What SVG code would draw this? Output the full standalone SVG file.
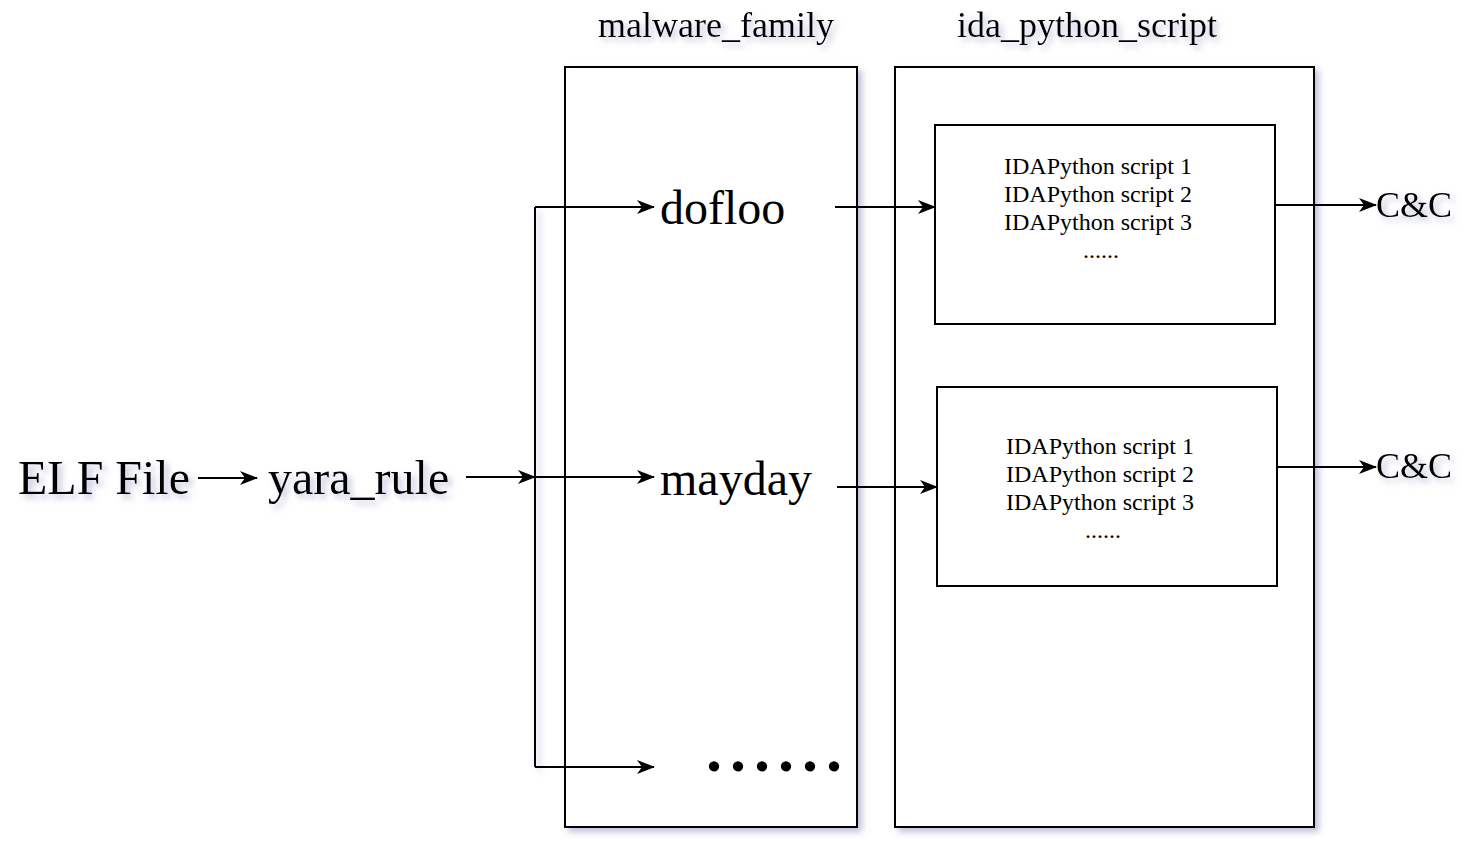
<svg xmlns="http://www.w3.org/2000/svg" width="1464" height="842" viewBox="0 0 1464 842">
<style>
.t{font-family:"Liberation Serif","Times New Roman",serif;fill:#000}
.big{font-size:48px}
.hdr{font-size:36px}
.sm{font-size:24px}
.box{fill:#fff;stroke:#000;stroke-width:2}
.ln{fill:none;stroke:#000;stroke-width:2}
</style>
<defs>
<filter id="sh" x="-20%" y="-20%" width="140%" height="140%">
<feGaussianBlur in="SourceAlpha" stdDeviation="3"/>
<feOffset dx="4" dy="4" result="b"/>
<feFlood flood-color="#8a8fb8" flood-opacity="0.55"/>
<feComposite in2="b" operator="in"/>
<feMerge><feMergeNode/><feMergeNode in="SourceGraphic"/></feMerge>
</filter>
<filter id="shl" filterUnits="userSpaceOnUse" x="520" y="190" width="40" height="600">
<feGaussianBlur in="SourceAlpha" stdDeviation="3"/>
<feOffset dx="4" dy="4" result="b"/>
<feFlood flood-color="#8a8fb8" flood-opacity="0.55"/>
<feComposite in2="b" operator="in"/>
<feMerge><feMergeNode/><feMergeNode in="SourceGraphic"/></feMerge>
</filter>
<marker id="arr" viewBox="0 0 18 14" refX="17" refY="7" markerWidth="18" markerHeight="14" markerUnits="userSpaceOnUse" orient="auto">
<path d="M0,0 L18,7 L0,14 L5,7 Z" fill="#000"/>
</marker>
</defs>

<g id="malware_family">
<rect class="box" x="565" y="67" width="292" height="760" filter="url(#sh)"/>
<text class="t hdr" x="716" y="37" text-anchor="middle" filter="url(#sh)">malware_family</text>
</g>
<g id="ida_python_script">
<rect class="box" x="895" y="67" width="419" height="760" filter="url(#sh)"/>
<text class="t hdr" x="1087" y="37" text-anchor="middle" filter="url(#sh)">ida_python_script</text>
</g>

<g id="connectors">
<path class="ln" d="M198,478 L257,478" marker-end="url(#arr)"/>
<path class="ln" d="M466,477 L535,477" marker-end="url(#arr)"/>
<path class="ln" d="M535,207 L535,767" filter="url(#shl)"/>
<path class="ln" d="M535,207 L654,207" marker-end="url(#arr)"/>
<path class="ln" d="M535,477 L654,477" marker-end="url(#arr)"/>
<path class="ln" d="M535,767 L654,767" marker-end="url(#arr)"/>
<path class="ln" d="M835,207 L935,207" marker-end="url(#arr)"/>
<path class="ln" d="M837,487 L937,487" marker-end="url(#arr)"/>
<path class="ln" d="M1275,205 L1376,205" marker-end="url(#arr)"/>
<path class="ln" d="M1277,467 L1376,467" marker-end="url(#arr)"/>
</g>

<g id="elf_file"><text class="t big" x="18" y="494" filter="url(#sh)">ELF File</text></g>
<g id="yara_rule"><text class="t big" x="268" y="494" filter="url(#sh)">yara_rule</text></g>
<g id="dofloo"><text class="t big" x="660" y="224">dofloo</text></g>
<g id="mayday"><text class="t big" x="660" y="495">mayday</text></g>
<g id="more_families"><text class="t" x="706" y="771" style="font-size:64px;font-weight:bold;letter-spacing:8px">......</text></g>

<g id="scripts_1">
<rect class="box" x="935" y="125" width="340" height="199"/>
<text class="t sm" text-anchor="middle">
<tspan x="1101" y="174">IDAPython script 1</tspan>
<tspan x="1101" y="202">IDAPython script 2</tspan>
<tspan x="1101" y="230">IDAPython script 3</tspan>
<tspan x="1101" y="258">......</tspan>
</text>
</g>
<g id="scripts_2">
<rect class="box" x="937" y="387" width="340" height="199"/>
<text class="t sm" text-anchor="middle">
<tspan x="1103" y="454">IDAPython script 1</tspan>
<tspan x="1103" y="482">IDAPython script 2</tspan>
<tspan x="1103" y="510">IDAPython script 3</tspan>
<tspan x="1103" y="538">......</tspan>
</text>
</g>

<g id="cc_1"><text class="t hdr" x="1376" y="217" filter="url(#sh)">C&amp;C</text></g>
<g id="cc_2"><text class="t hdr" x="1376" y="478" filter="url(#sh)">C&amp;C</text></g>
</svg>
